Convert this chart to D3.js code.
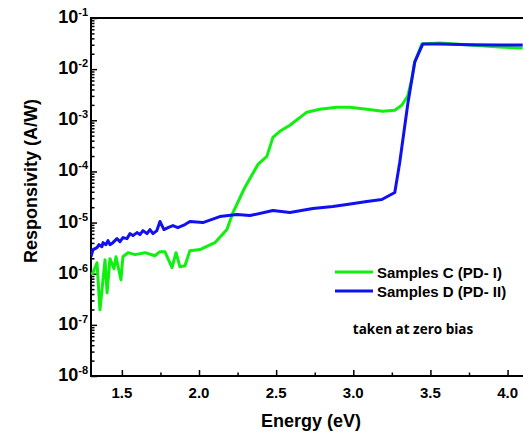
<!DOCTYPE html>
<html>
<head>
<meta charset="utf-8">
<script src="https://cdn.jsdelivr.net/npm/d3@7/dist/d3.min.js"></script>
<style>
  html, body { margin: 0; padding: 0; background: #fff; }
  svg { display: block; }
  text { font-family: "Liberation Sans", Arial, sans-serif; font-weight: bold; fill: #000; }
</style>
</head>
<body>
<svg id="chart" width="523" height="437"></svg>
<script>
// ---- Data ----
const seriesNames = ["Samples C (PD- I)", "Samples D (PD- II)"];
const greenEnergy = [1.306,1.339,1.358,1.391,1.404,1.423,1.449,1.462,1.494,1.507,1.540,1.585,1.650,1.714,1.747,1.779,1.825,1.851,1.876,1.909,1.941,2.006,2.103,2.181,2.220,2.297,2.382,2.440,2.479,2.524,2.589,2.699,2.783,2.893,2.977,3.088,3.191,3.269,3.314,3.353,3.379,3.398,3.444,3.560,3.755,3.949,4.098];
const greenResp = [9.5e-7,1.64e-6,1.97e-7,1.88e-6,4.24e-7,1.97e-6,1.25e-6,2.15e-6,7.6e-7,2.15e-6,2.58e-6,2.36e-6,2.58e-6,2.25e-6,2.7e-6,2.7e-6,1.31e-6,2.58e-6,1.37e-6,1.43e-6,2.82e-6,2.96e-6,4.05e-6,7.3e-6,1.57e-5,4.85e-5,1.37e-4,1.97e-4,4.64e-4,6.08e-4,7.98e-4,1.44e-3,1.64e-3,1.8e-3,1.8e-3,1.64e-3,1.5e-3,1.57e-3,1.97e-3,2.96e-3,6.37e-3,1.37e-2,3.09e-2,3.23e-2,2.96e-2,2.7e-2,2.58e-2];
const blueEnergy = [1.300,1.313,1.339,1.352,1.371,1.378,1.397,1.410,1.423,1.442,1.468,1.488,1.507,1.533,1.553,1.572,1.598,1.617,1.637,1.663,1.682,1.702,1.727,1.747,1.773,1.799,1.831,1.863,1.909,1.941,2.025,2.135,2.246,2.330,2.479,2.589,2.738,2.867,2.958,3.088,3.185,3.269,3.301,3.353,3.398,3.450,3.560,3.755,3.949,4.098];
const blueResp = [2.15e-6,2.96e-6,3.24e-6,3.7e-6,3.38e-6,4.05e-6,3.7e-6,4.44e-6,3.7e-6,4.05e-6,4.85e-6,4.24e-6,5.08e-6,4.85e-6,6.08e-6,5.56e-6,6.37e-6,5.82e-6,6.97e-6,6.08e-6,7.3e-6,6.08e-6,6.97e-6,1.05e-5,7.3e-6,7.98e-6,8.73e-6,7.98e-6,9.14e-6,1.05e-5,1.0e-5,1.31e-5,1.44e-5,1.37e-5,1.72e-5,1.57e-5,1.88e-5,2.06e-5,2.25e-5,2.58e-5,2.82e-5,3.87e-5,1.5e-4,2.06e-3,1.37e-2,3.09e-2,3.1e-2,3.0e-2,2.96e-2,2.96e-2];
const xTicks = [1.5, 2.0, 2.5, 3.0, 3.5, 4.0];
const xMinorTicks = [1.75, 2.25, 2.75, 3.25, 3.75];
const yExponents = [-1, -2, -3, -4, -5, -6, -7, -8];
const annotation = "taken at zero bias";

// ---- Layout ----
const svg = d3.select("#chart");
const pL = 91, pR = 523, pT = 18, pB = 376;
const x = d3.scaleLinear().domain([1.3, 4.1]).range([pL, pR]);
const y = d3.scaleLog().domain([1e-8, 1e-1]).range([pB, pT]);

svg.append("defs").append("clipPath").attr("id", "clip")
  .append("rect").attr("x", pL).attr("y", pT).attr("width", pR - pL).attr("height", pB - pT);

// y minor ticks
const yMinor = [];
for (let e = -8; e < -1; e++) for (let m = 2; m <= 9; m++) yMinor.push(m * Math.pow(10, e));

const gy = svg.append("g").attr("transform", `translate(${pL},0)`);
gy.call(d3.axisLeft(y).tickValues(yMinor).tickSize(-3.5).tickFormat(() => ""));
gy.append("g").call(d3.axisLeft(y).tickValues(yExponents.map(e => Math.pow(10, e))).tickSize(-6).tickFormat(() => ""));
gy.selectAll(".domain").remove();

const gx = svg.append("g").attr("transform", `translate(0,${pB})`);
gx.call(d3.axisBottom(x).tickValues(xMinorTicks).tickSize(-3.5).tickFormat(() => ""));
gx.append("g").call(d3.axisBottom(x).tickValues(xTicks).tickSize(-6).tickFormat(() => ""));
gx.selectAll(".domain").remove();
svg.selectAll(".tick line").attr("stroke", "#000").attr("stroke-width", 1.5);

// frame lines (left, bottom, top)
svg.append("path")
  .attr("d", `M${pR},${pT}H${pL}V${pB}H${pR}`)
  .attr("fill", "none").attr("stroke", "#000").attr("stroke-width", 2);

// x tick labels
svg.append("g").selectAll("text").data(xTicks).join("text")
  .attr("x", d => x(d)).attr("y", 398)
  .attr("text-anchor", "middle").style("font-size", "15px")
  .text(d => d.toFixed(1));

// y tick labels
const yl = svg.append("g").selectAll("text").data(yExponents).join("text")
  .attr("x", 88).attr("y", d => y(Math.pow(10, d)) + 5)
  .attr("text-anchor", "end").style("font-size", "18px");
yl.append("tspan").text("10");
yl.append("tspan").attr("dy", -7).style("font-size", "11px").text(d => String(d));

// axis titles
svg.append("text").attr("x", 311).attr("y", 427).attr("text-anchor", "middle")
  .style("font-size", "18px").text("Energy (eV)");
svg.append("text").attr("transform", "translate(37,181) rotate(-90)").attr("text-anchor", "middle")
  .style("font-size", "18px").text("Responsivity (A/W)");

// curves
const line = d3.line().x(d => x(d[0])).y(d => y(d[1]));
const plot = svg.append("g").attr("clip-path", "url(#clip)");
const greenData = greenEnergy.map((e, i) => [e, greenResp[i]]);
const blueData = blueEnergy.map((e, i) => [e, blueResp[i]]);
plot.append("path").datum(greenData).attr("d", line)
  .attr("fill", "none").attr("stroke", "#10f010").attr("stroke-width", 3).attr("stroke-linejoin", "round");
plot.append("path").datum(blueData).attr("d", line)
  .attr("fill", "none").attr("stroke", "#1010f0").attr("stroke-width", 3).attr("stroke-linejoin", "round");

// legend
const colors = ["#10f010", "#1010f0"];
const leg = svg.append("g");
seriesNames.forEach((name, i) => {
  const ly = 272 + i * 19;
  leg.append("line").attr("x1", 335).attr("x2", 373).attr("y1", ly).attr("y2", ly)
    .attr("stroke", colors[i]).attr("stroke-width", 3);
  leg.append("text").attr("x", 377).attr("y", ly + 5.5).style("font-size", "15px").text(name);
});

svg.append("text").attr("x", 413).attr("y", 334).attr("text-anchor", "middle")
  .style("font-family", "'Open Sans', sans-serif").style("font-size", "13.5px").text(annotation);
</script>
</body>
</html>
